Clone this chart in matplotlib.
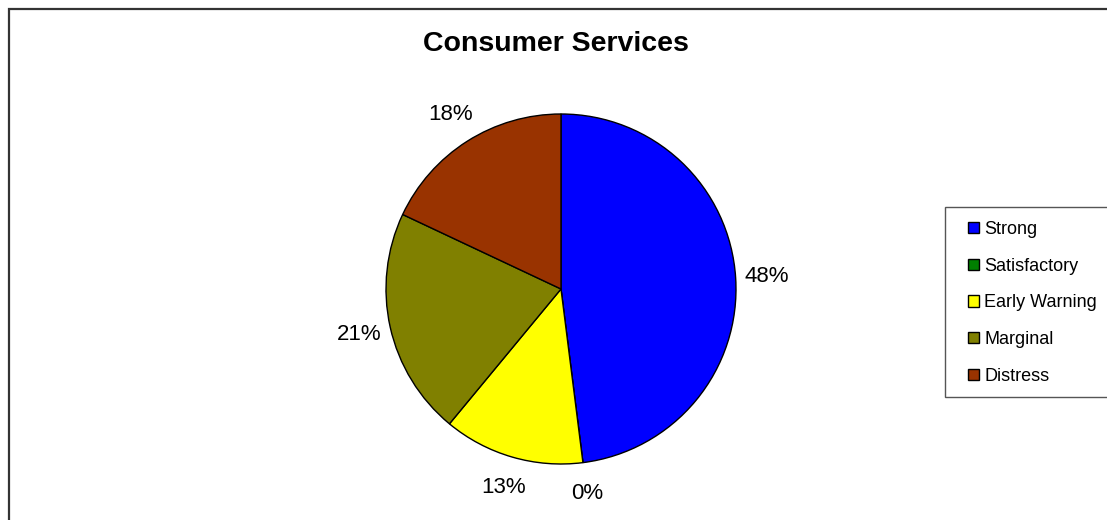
import matplotlib.pyplot as plt
from matplotlib.patches import Patch, Rectangle

plt.rcParams['font.family'] = ['Liberation Sans', 'DejaVu Sans']

categories = ['Strong', 'Satisfactory', 'Early Warning', 'Marginal', 'Distress']
shares = [48, 0, 13, 21, 18]
colors = ['#0000FF', '#008000', '#FFFF00', '#808000', '#993300']

W, H = 1107, 520
fig = plt.figure(figsize=(W / 100, H / 100), dpi=100)

# chart area border, runs off the right and bottom edges
fig.patches.append(Rectangle((8.5 / W, -0.05), 1.1, 1 - 8.5 / H + 0.05,
                             transform=fig.transFigure, fill=False,
                             edgecolor='#333333', linewidth=1.6))

# pie centred at (561, 289) px with a 175 px radius
cx, cy, r = 561, 289, 175
ax = fig.add_axes([(cx - r) / W, (H - cy - r) / H, 2 * r / W, 2 * r / H])
wedges, texts = ax.pie(shares, colors=colors, startangle=90, counterclock=False,
                       labels=[f'{v}%' for v in shares], labeldistance=1.18,
                       wedgeprops=dict(edgecolor='black', linewidth=1.0),
                       textprops=dict(fontsize=16))
for t in texts:
    t.set_ha('center')
    t.set_va('center')
    t.set_clip_on(False)
ax.set_xlim(-1, 1)
ax.set_ylim(-1, 1)
ax.axis('off')

fig.text(556 / W, 1 - 44 / H, 'Consumer Services', ha='center', va='center',
         fontsize=20.5, fontweight='bold')

# legend box, also cut off at the right edge
fig.patches.append(Rectangle((945 / W, 1 - 397 / H), 200 / W, 190 / H,
                             transform=fig.transFigure, facecolor='white',
                             edgecolor='#555555', linewidth=1.0))
handles = [Patch(facecolor=c, edgecolor='black', linewidth=1.0) for c in colors]
leg = fig.legend(handles, categories, loc='upper left',
                 bbox_to_anchor=(968 / W, 1 - 221 / H),
                 fontsize=13, handlelength=0.6, handleheight=0.6,
                 handletextpad=0.3, labelspacing=1.09, borderpad=0.0,
                 borderaxespad=0.0, frameon=False)

fig.savefig('out.png', dpi=100)
